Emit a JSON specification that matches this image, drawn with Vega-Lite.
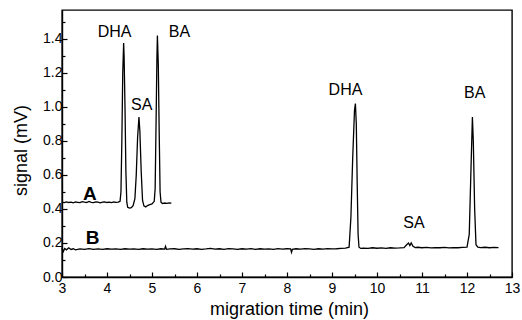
{
  "$schema": "https://vega.github.io/schema/vega-lite/v6.json",
  "width": 450,
  "height": 267,
  "autosize": "none",
  "padding": {"left": 62, "top": 10, "right": 10, "bottom": 43},
  "background": "white",
  "config": {
    "font": "Liberation Sans",
    "view": {"stroke": "black", "strokeWidth": 1.4},
    "axis": {
      "ticks": true,
      "domainColor": "black",
      "domainWidth": 1.4,
      "tickColor": "black",
      "tickWidth": 1.2,
      "labelColor": "black",
      "labelFont": "Liberation Sans",
      "labelFontSize": 14,
      "titleFont": "Liberation Sans",
      "titleFontSize": 18,
      "titleFontWeight": "normal",
      "titleColor": "black",
      "grid": false,
      "labelOverlap": false,
      "labelFlush": false
    }
  },
  "datasets": {
    "traces": [
      {"trace": "A", "t": 3.00, "s": 0.440},
      {"trace": "A", "t": 3.05, "s": 0.437},
      {"trace": "A", "t": 3.10, "s": 0.442},
      {"trace": "A", "t": 3.15, "s": 0.438},
      {"trace": "A", "t": 3.20, "s": 0.440},
      {"trace": "A", "t": 3.25, "s": 0.436},
      {"trace": "A", "t": 3.30, "s": 0.441},
      {"trace": "A", "t": 3.35, "s": 0.439},
      {"trace": "A", "t": 3.40, "s": 0.437},
      {"trace": "A", "t": 3.45, "s": 0.443},
      {"trace": "A", "t": 3.50, "s": 0.440},
      {"trace": "A", "t": 3.55, "s": 0.438},
      {"trace": "A", "t": 3.60, "s": 0.444},
      {"trace": "A", "t": 3.65, "s": 0.439},
      {"trace": "A", "t": 3.70, "s": 0.437},
      {"trace": "A", "t": 3.75, "s": 0.441},
      {"trace": "A", "t": 3.80, "s": 0.440},
      {"trace": "A", "t": 3.85, "s": 0.436},
      {"trace": "A", "t": 3.90, "s": 0.440},
      {"trace": "A", "t": 3.95, "s": 0.442},
      {"trace": "A", "t": 4.00, "s": 0.438},
      {"trace": "A", "t": 4.05, "s": 0.440},
      {"trace": "A", "t": 4.10, "s": 0.437},
      {"trace": "A", "t": 4.15, "s": 0.441},
      {"trace": "A", "t": 4.20, "s": 0.439},
      {"trace": "A", "t": 4.25, "s": 0.440},
      {"trace": "A", "t": 4.29, "s": 0.445},
      {"trace": "A", "t": 4.31, "s": 0.500},
      {"trace": "A", "t": 4.33, "s": 0.800},
      {"trace": "A", "t": 4.35, "s": 1.200},
      {"trace": "A", "t": 4.37, "s": 1.376},
      {"trace": "A", "t": 4.38, "s": 1.300},
      {"trace": "A", "t": 4.40, "s": 1.000},
      {"trace": "A", "t": 4.42, "s": 0.620},
      {"trace": "A", "t": 4.44, "s": 0.440},
      {"trace": "A", "t": 4.46, "s": 0.410},
      {"trace": "A", "t": 4.50, "s": 0.405},
      {"trace": "A", "t": 4.54, "s": 0.408},
      {"trace": "A", "t": 4.58, "s": 0.420},
      {"trace": "A", "t": 4.62, "s": 0.460},
      {"trace": "A", "t": 4.65, "s": 0.600},
      {"trace": "A", "t": 4.68, "s": 0.820},
      {"trace": "A", "t": 4.71, "s": 0.940},
      {"trace": "A", "t": 4.73, "s": 0.860},
      {"trace": "A", "t": 4.76, "s": 0.620},
      {"trace": "A", "t": 4.79, "s": 0.450},
      {"trace": "A", "t": 4.82, "s": 0.418},
      {"trace": "A", "t": 4.86, "s": 0.412},
      {"trace": "A", "t": 4.90, "s": 0.420},
      {"trace": "A", "t": 4.95, "s": 0.425},
      {"trace": "A", "t": 5.00, "s": 0.430},
      {"trace": "A", "t": 5.05, "s": 0.445},
      {"trace": "A", "t": 5.07, "s": 0.520},
      {"trace": "A", "t": 5.09, "s": 0.900},
      {"trace": "A", "t": 5.11, "s": 1.300},
      {"trace": "A", "t": 5.12, "s": 1.420},
      {"trace": "A", "t": 5.14, "s": 1.250},
      {"trace": "A", "t": 5.16, "s": 0.850},
      {"trace": "A", "t": 5.18, "s": 0.500},
      {"trace": "A", "t": 5.20, "s": 0.440},
      {"trace": "A", "t": 5.23, "s": 0.432},
      {"trace": "A", "t": 5.28, "s": 0.435},
      {"trace": "A", "t": 5.33, "s": 0.433},
      {"trace": "A", "t": 5.38, "s": 0.436},
      {"trace": "A", "t": 5.43, "s": 0.434},

      {"trace": "B", "t": 3.00, "s": 0.170},
      {"trace": "B", "t": 3.03, "s": 0.150},
      {"trace": "B", "t": 3.06, "s": 0.168},
      {"trace": "B", "t": 3.10, "s": 0.160},
      {"trace": "B", "t": 3.15, "s": 0.172},
      {"trace": "B", "t": 3.20, "s": 0.162},
      {"trace": "B", "t": 3.25, "s": 0.166},
      {"trace": "B", "t": 3.30, "s": 0.160},
      {"trace": "B", "t": 3.40, "s": 0.165},
      {"trace": "B", "t": 3.50, "s": 0.163},
      {"trace": "B", "t": 3.60, "s": 0.167},
      {"trace": "B", "t": 3.70, "s": 0.162},
      {"trace": "B", "t": 3.80, "s": 0.165},
      {"trace": "B", "t": 3.90, "s": 0.163},
      {"trace": "B", "t": 4.00, "s": 0.166},
      {"trace": "B", "t": 4.10, "s": 0.164},
      {"trace": "B", "t": 4.20, "s": 0.165},
      {"trace": "B", "t": 4.30, "s": 0.163},
      {"trace": "B", "t": 4.40, "s": 0.166},
      {"trace": "B", "t": 4.50, "s": 0.164},
      {"trace": "B", "t": 4.60, "s": 0.165},
      {"trace": "B", "t": 4.70, "s": 0.163},
      {"trace": "B", "t": 4.80, "s": 0.166},
      {"trace": "B", "t": 4.90, "s": 0.164},
      {"trace": "B", "t": 5.00, "s": 0.165},
      {"trace": "B", "t": 5.10, "s": 0.163},
      {"trace": "B", "t": 5.20, "s": 0.166},
      {"trace": "B", "t": 5.28, "s": 0.164},
      {"trace": "B", "t": 5.30, "s": 0.180},
      {"trace": "B", "t": 5.32, "s": 0.163},
      {"trace": "B", "t": 5.40, "s": 0.165},
      {"trace": "B", "t": 5.50, "s": 0.166},
      {"trace": "B", "t": 5.60, "s": 0.163},
      {"trace": "B", "t": 5.70, "s": 0.165},
      {"trace": "B", "t": 5.80, "s": 0.167},
      {"trace": "B", "t": 5.90, "s": 0.164},
      {"trace": "B", "t": 6.00, "s": 0.166},
      {"trace": "B", "t": 6.10, "s": 0.163},
      {"trace": "B", "t": 6.20, "s": 0.165},
      {"trace": "B", "t": 6.30, "s": 0.168},
      {"trace": "B", "t": 6.40, "s": 0.164},
      {"trace": "B", "t": 6.50, "s": 0.166},
      {"trace": "B", "t": 6.60, "s": 0.163},
      {"trace": "B", "t": 6.70, "s": 0.167},
      {"trace": "B", "t": 6.80, "s": 0.165},
      {"trace": "B", "t": 6.90, "s": 0.162},
      {"trace": "B", "t": 7.00, "s": 0.166},
      {"trace": "B", "t": 7.10, "s": 0.164},
      {"trace": "B", "t": 7.20, "s": 0.167},
      {"trace": "B", "t": 7.30, "s": 0.163},
      {"trace": "B", "t": 7.40, "s": 0.166},
      {"trace": "B", "t": 7.50, "s": 0.164},
      {"trace": "B", "t": 7.60, "s": 0.165},
      {"trace": "B", "t": 7.70, "s": 0.163},
      {"trace": "B", "t": 7.80, "s": 0.167},
      {"trace": "B", "t": 7.90, "s": 0.164},
      {"trace": "B", "t": 8.00, "s": 0.166},
      {"trace": "B", "t": 8.08, "s": 0.165},
      {"trace": "B", "t": 8.10, "s": 0.145},
      {"trace": "B", "t": 8.12, "s": 0.163},
      {"trace": "B", "t": 8.20, "s": 0.166},
      {"trace": "B", "t": 8.30, "s": 0.164},
      {"trace": "B", "t": 8.40, "s": 0.167},
      {"trace": "B", "t": 8.50, "s": 0.165},
      {"trace": "B", "t": 8.60, "s": 0.163},
      {"trace": "B", "t": 8.70, "s": 0.166},
      {"trace": "B", "t": 8.80, "s": 0.164},
      {"trace": "B", "t": 8.90, "s": 0.167},
      {"trace": "B", "t": 9.00, "s": 0.165},
      {"trace": "B", "t": 9.10, "s": 0.166},
      {"trace": "B", "t": 9.20, "s": 0.168},
      {"trace": "B", "t": 9.30, "s": 0.170},
      {"trace": "B", "t": 9.38, "s": 0.175},
      {"trace": "B", "t": 9.42, "s": 0.350},
      {"trace": "B", "t": 9.46, "s": 0.700},
      {"trace": "B", "t": 9.50, "s": 0.980},
      {"trace": "B", "t": 9.52, "s": 1.020},
      {"trace": "B", "t": 9.54, "s": 0.900},
      {"trace": "B", "t": 9.56, "s": 0.550},
      {"trace": "B", "t": 9.58, "s": 0.250},
      {"trace": "B", "t": 9.60, "s": 0.175},
      {"trace": "B", "t": 9.64, "s": 0.168},
      {"trace": "B", "t": 9.70, "s": 0.170},
      {"trace": "B", "t": 9.80, "s": 0.168},
      {"trace": "B", "t": 9.90, "s": 0.172},
      {"trace": "B", "t": 10.00, "s": 0.169},
      {"trace": "B", "t": 10.10, "s": 0.171},
      {"trace": "B", "t": 10.20, "s": 0.168},
      {"trace": "B", "t": 10.30, "s": 0.172},
      {"trace": "B", "t": 10.40, "s": 0.170},
      {"trace": "B", "t": 10.50, "s": 0.171},
      {"trace": "B", "t": 10.60, "s": 0.173},
      {"trace": "B", "t": 10.66, "s": 0.190},
      {"trace": "B", "t": 10.70, "s": 0.200},
      {"trace": "B", "t": 10.73, "s": 0.185},
      {"trace": "B", "t": 10.76, "s": 0.200},
      {"trace": "B", "t": 10.80, "s": 0.180},
      {"trace": "B", "t": 10.85, "s": 0.173},
      {"trace": "B", "t": 10.90, "s": 0.175},
      {"trace": "B", "t": 11.00, "s": 0.172},
      {"trace": "B", "t": 11.10, "s": 0.174},
      {"trace": "B", "t": 11.20, "s": 0.171},
      {"trace": "B", "t": 11.30, "s": 0.173},
      {"trace": "B", "t": 11.40, "s": 0.172},
      {"trace": "B", "t": 11.50, "s": 0.174},
      {"trace": "B", "t": 11.60, "s": 0.171},
      {"trace": "B", "t": 11.70, "s": 0.173},
      {"trace": "B", "t": 11.80, "s": 0.172},
      {"trace": "B", "t": 11.90, "s": 0.174},
      {"trace": "B", "t": 12.00, "s": 0.176},
      {"trace": "B", "t": 12.05, "s": 0.250},
      {"trace": "B", "t": 12.09, "s": 0.650},
      {"trace": "B", "t": 12.12, "s": 0.940},
      {"trace": "B", "t": 12.14, "s": 0.800},
      {"trace": "B", "t": 12.17, "s": 0.400},
      {"trace": "B", "t": 12.20, "s": 0.190},
      {"trace": "B", "t": 12.24, "s": 0.175},
      {"trace": "B", "t": 12.30, "s": 0.173},
      {"trace": "B", "t": 12.40, "s": 0.175},
      {"trace": "B", "t": 12.50, "s": 0.172},
      {"trace": "B", "t": 12.60, "s": 0.174},
      {"trace": "B", "t": 12.70, "s": 0.173}
    ],
    "peaks": [
      {"label": "DHA", "t": 4.17, "s": 1.44},
      {"label": "SA", "t": 4.77, "s": 1.01},
      {"label": "BA", "t": 5.61, "s": 1.44},
      {"label": "DHA", "t": 9.3, "s": 1.10},
      {"label": "SA", "t": 10.82, "s": 0.315},
      {"label": "BA", "t": 12.17, "s": 1.08}
    ],
    "traceNames": [
      {"label": "A", "t": 3.62, "s": 0.49},
      {"label": "B", "t": 3.68, "s": 0.23}
    ]
  },
  "resolve": {"axis": {"x": "independent", "y": "independent"}},
  "layer": [
    {
      "data": {"name": "traces"},
      "mark": {"type": "line", "color": "black", "strokeWidth": 1.3, "interpolate": "linear"},
      "encoding": {
        "x": {
          "field": "t",
          "type": "quantitative",
          "scale": {"domain": [3, 13], "nice": false},
          "axis": {
            "orient": "bottom",
            "title": "migration time (min)",
            "values": [3, 4, 5, 6, 7, 8, 9, 10, 11, 12, 13],
            "format": "d",
            "tickSize": -5,
            "labelPadding": 9,
            "titleX": 227,
            "titleY": 37,
            "titleBaseline": "alphabetic",
            "titleAnchor": "middle",
            "titleAlign": "center"
          }
        },
        "y": {
          "field": "s",
          "type": "quantitative",
          "scale": {"domain": [0, 1.57], "nice": false},
          "axis": {
            "orient": "left",
            "title": "signal (mV)",
            "values": [0, 0.2, 0.4, 0.6, 0.8, 1.0, 1.2, 1.4],
            "format": ".1f",
            "tickSize": -5,
            "labelPadding": 5,
            "titleAngle": -90,
            "titleX": -36,
            "titleY": 140,
            "titleBaseline": "alphabetic",
            "titleAlign": "center"
          }
        },
        "detail": {"field": "trace", "type": "nominal"}
      }
    },
    {
      "data": {"name": "peaks"},
      "mark": {"type": "text", "font": "Liberation Sans", "fontSize": 16, "color": "black", "align": "center", "baseline": "middle"},
      "encoding": {
        "x": {
          "field": "t",
          "type": "quantitative",
          "scale": {"domain": [3, 13], "nice": false},
          "axis": {
            "orient": "bottom",
            "title": null,
            "values": [3.5, 4.5, 5.5, 6.5, 7.5, 8.5, 9.5, 10.5, 11.5, 12.5],
            "labels": false,
            "domain": false,
            "tickSize": -3
          }
        },
        "y": {
          "field": "s",
          "type": "quantitative",
          "scale": {"domain": [0, 1.57], "nice": false},
          "axis": {
            "orient": "left",
            "title": null,
            "values": [0.1, 0.3, 0.5, 0.7, 0.9, 1.1, 1.3, 1.5],
            "labels": false,
            "domain": false,
            "tickSize": -3
          }
        },
        "text": {"field": "label"}
      }
    },
    {
      "data": {"name": "traceNames"},
      "mark": {"type": "text", "font": "Liberation Sans", "fontSize": 19, "fontWeight": "bold", "color": "black", "align": "center", "baseline": "middle"},
      "encoding": {
        "x": {"field": "t", "type": "quantitative", "scale": {"domain": [3, 13], "nice": false}, "axis": null},
        "y": {"field": "s", "type": "quantitative", "scale": {"domain": [0, 1.57], "nice": false}, "axis": null},
        "text": {"field": "label"}
      }
    }
  ]
}
